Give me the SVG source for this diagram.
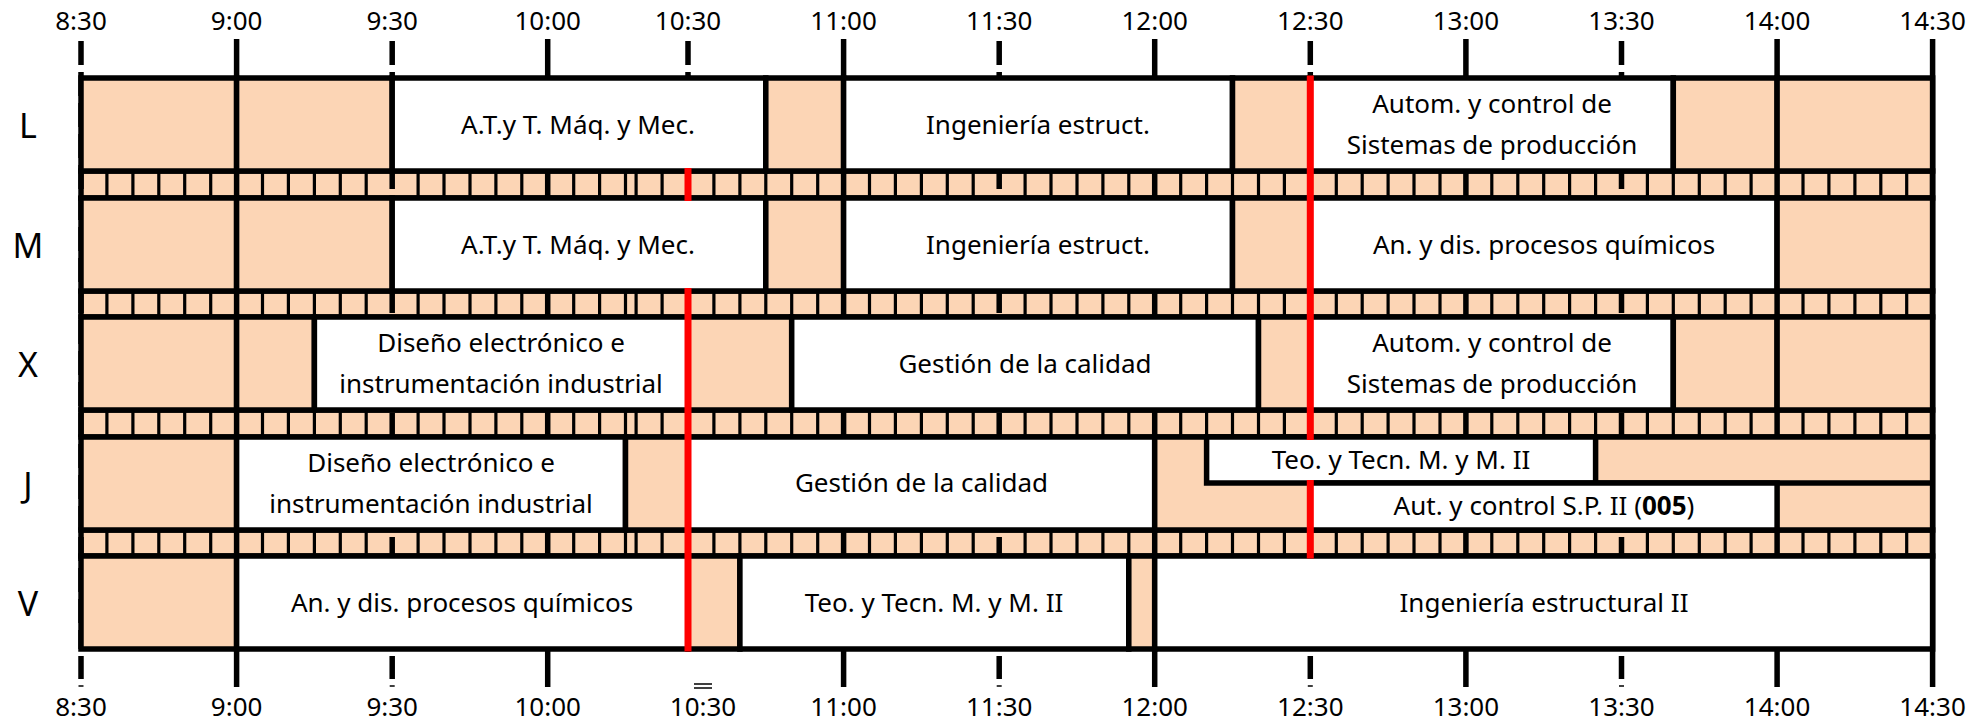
<svg xmlns="http://www.w3.org/2000/svg" xmlns:xlink="http://www.w3.org/1999/xlink" width="1983" height="722" viewBox="0 0 1983 722">
<style>
.c{stroke:#000;stroke-width:5.5}
.o{fill:#FCD5B5}
.w{fill:#fff}
.t{font-family:"Noto Sans","Open Sans",sans-serif;font-size:26px;text-anchor:middle;fill:#000}
.rl{font-size:34px}
.red{stroke:#f00;stroke-width:7;fill:none}
.ln{stroke:#000;stroke-width:5.5;fill:none}
</style>
<defs>
<path id="dv" stroke="#000" stroke-width="3.2" fill="none" d="M106.9 0V27M132.9 0V27M158.8 0V27M184.7 0V27M210.7 0V27M262.5 0V27M288.4 0V27M314.4 0V27M340.3 0V27M366.2 0V27M418.1 0V27M444 0V27M470 0V27M495.9 0V27M521.8 0V27M573.7 0V27M599.6 0V27M625.5 0V27M636.1 0V27M662.1 0V27M713.9 0V27M739.9 0V27M765.8 0V27M791.7 0V27M817.7 0V27M869.5 0V27M895.4 0V27M921.4 0V27M947.3 0V27M973.2 0V27M1025.1 0V27M1051 0V27M1077 0V27M1102.9 0V27M1128.8 0V27M1180.7 0V27M1206.6 0V27M1232.5 0V27M1258.5 0V27M1284.4 0V27M1336.3 0V27M1362.2 0V27M1388.1 0V27M1414 0V27M1440 0V27M1491.8 0V27M1517.8 0V27M1543.7 0V27M1569.6 0V27M1595.6 0V27M1647.4 0V27M1673.3 0V27M1699.3 0V27M1725.2 0V27M1751.1 0V27M1803 0V27M1828.9 0V27M1854.9 0V27M1880.8 0V27M1906.7 0V27"/>
</defs>

<g id="grid">
<rect class="c o" x="81" y="171" width="1851.6" height="27"/>
<rect class="c o" x="81" y="291" width="1851.6" height="26"/>
<rect class="c o" x="81" y="410" width="1851.6" height="27"/>
<rect class="c o" x="81" y="530" width="1851.6" height="26"/>
<use xlink:href="#dv" y="171"/>
<use xlink:href="#dv" y="291"/>
<use xlink:href="#dv" y="410"/>
<use xlink:href="#dv" y="530"/>
<path class="ln" d="M236.6 39V687M547.7 39V687M843.6 39V687M1154.7 39V687M1465.9 39V687M1777.1 39V687M1932.6 39V687"/>
<path class="ln" stroke-dasharray="24 7" d="M81 41V649M392.2 41V649M688 41V649M999.2 41V649M1310.3 41V649M1621.5 41V649"/>
<path class="ln" d="M81 656V679M392.2 656V679M999.2 656V679M1310.3 656V679M1621.5 656V679"/>
<path stroke="#000" stroke-width="1.6" fill="none" d="M78.5 686H83.5M389.7 686H394.7M996.7 686H1001.7M1307.8 686H1312.8M1619 686H1624M694 684H712M694 688H712"/>
</g>

<g id="row-L">
<rect class="c o" x="81" y="78" width="155.6" height="93"/>
<rect class="c o" x="236.6" y="78" width="155.6" height="93"/>
<rect class="c w" x="392.2" y="78" width="373.6" height="93"/>
<rect class="c o" x="765.8" y="78" width="77.8" height="93"/>
<rect class="c w" x="843.6" y="78" width="388.9" height="93"/>
<rect class="c o" x="1232.5" y="78" width="77.8" height="93"/>
<rect class="c w" x="1310.3" y="78" width="363" height="93"/>
<rect class="c o" x="1673.3" y="78" width="103.8" height="93"/>
<rect class="c o" x="1777.1" y="78" width="155.5" height="93"/>
</g>
<g id="row-M">
<rect class="c o" x="81" y="198" width="155.6" height="93"/>
<rect class="c o" x="236.6" y="198" width="155.6" height="93"/>
<rect class="c w" x="392.2" y="198" width="373.6" height="93"/>
<rect class="c o" x="765.8" y="198" width="77.8" height="93"/>
<rect class="c w" x="843.6" y="198" width="388.9" height="93"/>
<rect class="c o" x="1232.5" y="198" width="77.8" height="93"/>
<rect class="c w" x="1310.3" y="198" width="466.8" height="93"/>
<rect class="c o" x="1777.1" y="198" width="155.5" height="93"/>
</g>
<g id="row-X">
<rect class="c o" x="81" y="317" width="155.6" height="93"/>
<rect class="c o" x="236.6" y="317" width="77.8" height="93"/>
<rect class="c w" x="314.4" y="317" width="373.6" height="93"/>
<rect class="c o" x="688" y="317" width="103.7" height="93"/>
<rect class="c w" x="791.7" y="317" width="466.8" height="93"/>
<rect class="c o" x="1258.5" y="317" width="51.8" height="93"/>
<rect class="c w" x="1310.3" y="317" width="363" height="93"/>
<rect class="c o" x="1673.3" y="317" width="103.8" height="93"/>
<rect class="c o" x="1777.1" y="317" width="155.5" height="93"/>
</g>
<g id="row-J">
<rect class="c o" x="81" y="437" width="155.6" height="93"/>
<rect class="c w" x="236.6" y="437" width="388.9" height="93"/>
<rect class="c o" x="625.5" y="437" width="62.5" height="93"/>
<rect class="c w" x="688" y="437" width="466.7" height="93"/>
<rect class="c o" x="1154.7" y="437" width="777.9" height="93"/>
<rect class="c w" x="1206.6" y="437" width="389" height="46"/>
<path class="ln" d="M1595.6 483H1932.6"/>
<rect class="c w" x="1310.3" y="483" width="466.8" height="47"/>
</g>
<g id="row-V">
<rect class="c o" x="81" y="556" width="155.6" height="93"/>
<rect class="c w" x="236.6" y="556" width="451.4" height="93"/>
<rect class="c o" x="688" y="556" width="51.9" height="93"/>
<rect class="c w" x="739.9" y="556" width="388.9" height="93"/>
<rect class="c o" x="1128.8" y="556" width="25.9" height="93"/>
<rect class="c w" x="1154.7" y="556" width="777.9" height="93"/>
</g>

<g id="connectors">
<path class="red" d="M688 168V201M688 288V651.5M1310.3 75.5V440M1310.3 480V558.5"/>
</g>

<g id="labels" class="t">
<text x="81" y="30">8:30</text>
<text x="236.6" y="30">9:00</text>
<text x="392.2" y="30">9:30</text>
<text x="547.7" y="30">10:00</text>
<text x="688" y="30">10:30</text>
<text x="843.6" y="30">11:00</text>
<text x="999.2" y="30">11:30</text>
<text x="1154.7" y="30">12:00</text>
<text x="1310.3" y="30">12:30</text>
<text x="1465.9" y="30">13:00</text>
<text x="1621.5" y="30">13:30</text>
<text x="1777.1" y="30">14:00</text>
<text x="1932.6" y="30">14:30</text>
<text x="81" y="716">8:30</text>
<text x="236.6" y="716">9:00</text>
<text x="392.2" y="716">9:30</text>
<text x="547.7" y="716">10:00</text>
<text x="703" y="716">10:30</text>
<text x="843.6" y="716">11:00</text>
<text x="999.2" y="716">11:30</text>
<text x="1154.7" y="716">12:00</text>
<text x="1310.3" y="716">12:30</text>
<text x="1465.9" y="716">13:00</text>
<text x="1621.5" y="716">13:30</text>
<text x="1777.1" y="716">14:00</text>
<text x="1932.6" y="716">14:30</text>
<text class="rl" x="28" y="138">L</text>
<text class="rl" x="28" y="258">M</text>
<text class="rl" x="28" y="377">X</text>
<text class="rl" x="28" y="496.5">J</text>
<text class="rl" x="28" y="616">V</text>
</g>

<g id="text-L" class="t">
<text x="578" y="133.5">A.T.y T. Máq. y Mec.</text>
<text x="1038" y="133.5">Ingeniería estruct.</text>
<text x="1492" y="113">Autom. y control de</text>
<text x="1492" y="154">Sistemas de producción</text>
</g>
<g id="text-M" class="t">
<text x="578" y="253.5">A.T.y T. Máq. y Mec.</text>
<text x="1038" y="253.5">Ingeniería estruct.</text>
<text x="1544" y="253.5">An. y dis. procesos químicos</text>
</g>
<g id="text-X" class="t">
<text x="501" y="352">Diseño electrónico e</text>
<text x="501" y="393">instrumentación industrial</text>
<text x="1025" y="372.5">Gestión de la calidad</text>
<text x="1492" y="352">Autom. y control de</text>
<text x="1492" y="393">Sistemas de producción</text>
</g>
<g id="text-J" class="t">
<text x="431" y="471.5">Diseño electrónico e</text>
<text x="431" y="512.5">instrumentación industrial</text>
<text x="921.5" y="492">Gestión de la calidad</text>
<text x="1401" y="468.5">Teo. y Tecn. M. y M. II</text>
<text x="1544" y="515">Aut. y control S.P. II (<tspan font-weight="bold">005</tspan>)</text>
</g>
<g id="text-V" class="t">
<text x="462" y="611.5">An. y dis. procesos químicos</text>
<text x="934" y="611.5">Teo. y Tecn. M. y M. II</text>
<text x="1544" y="611.5">Ingeniería estructural II</text>
</g>
</svg>
